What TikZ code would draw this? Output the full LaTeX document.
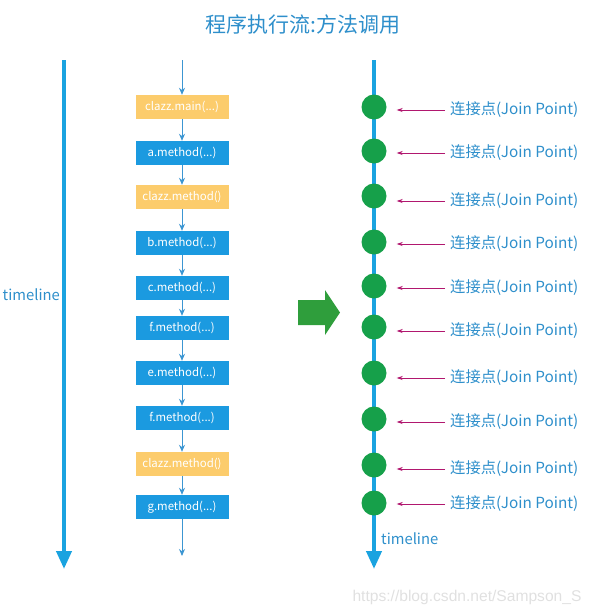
\documentclass[tikz,border=0pt]{standalone}
\usepackage{fontspec}
\setmainfont{Noto Sans CJK SC}
\newfontfamily\wmfont{Liberation Sans}
\usetikzlibrary{arrows.meta,positioning}

\definecolor{boxblue}{RGB}{27,154,224}
\definecolor{boxorange}{RGB}{252,204,108}
\definecolor{lineblue}{RGB}{26,163,224}
\definecolor{flowblue}{RGB}{60,150,210}
\definecolor{textblue}{RGB}{46,143,203}
\definecolor{dotgreen}{RGB}{22,160,74}
\definecolor{arrowgreen}{RGB}{47,158,60}
\definecolor{pinkarrow}{RGB}{177,23,111}

\begin{document}
\begin{tikzpicture}[x=1pt,y=-1pt,>={Stealth[length=7pt,width=6pt]},
  call/.style={rectangle,fill=boxblue,text=white,minimum width=93pt,minimum height=24pt,inner sep=0pt,font=\fontsize{11.4}{13}\selectfont},
  clazz/.style={call,fill=boxorange},
  joinpt/.style={circle,fill=dotgreen,minimum size=25pt,inner sep=0pt},
  jplabel/.style={anchor=west,text=textblue,inner sep=2pt,font=\fontsize{15.3}{17}\selectfont},
  tline/.style={line width=4pt,lineblue,-{Triangle[length=18pt,width=15pt]}},
  flow/.style={flowblue,line width=1pt},
  pin/.style={pinkarrow,line width=0.9pt,-{Stealth[length=6pt,width=4pt]},shorten <=3pt,shorten >=10pt}]

\useasboundingbox (0,0) rectangle (593,614);

% title
\node[text=textblue,font=\fontsize{21}{24}\selectfont] (title) at (303,25) {程序执行流:方法调用};

% left timeline
\coordinate (lt0) at (64,60);
\coordinate (lt1) at (64,569);
\draw[tline] (lt0) -- (lt1);
\node[anchor=east,text=textblue,font=\fontsize{14.8}{17}\selectfont,inner sep=2pt] (ltlabel) at (62,295) {timeline};

% method calls
\coordinate (fstart) at (182,60);
\node[clazz] (m1)  at (182,107) {clazz.main(...)};
\node[call]  (m2)  at (182,153) {a.method(...)};
\node[clazz] (m3)  at (182,197) {clazz.method()};
\node[call]  (m4)  at (182,243) {b.method(...)};
\node[call]  (m5)  at (182,288) {c.method(...)};
\node[call]  (m6)  at (182,328) {f.method(...)};
\node[call]  (m7)  at (182,373) {e.method(...)};
\node[call]  (m8)  at (182,418) {f.method(...)};
\node[clazz] (m9)  at (182,464) {clazz.method()};
\node[call]  (m10) at (182,507) {g.method(...)};
\coordinate (fend) at (182,556);

\path[flow,->] (fstart) edge (m1)
  (m1) edge (m2)
  (m2) edge (m3)
  (m3) edge (m4)
  (m4) edge (m5)
  (m5) edge (m6)
  (m6) edge (m7)
  (m7) edge (m8)
  (m8) edge (m9)
  (m9) edge (m10)
  (m10) edge (fend);

% green arrow
\fill[arrowgreen] (298,300) -- (325,300) -- (325,290) -- (340,312.5) -- (325,335) -- (325,325) -- (298,325) -- cycle;

% right timeline
\coordinate (rt0) at (374,60);
\coordinate (rt1) at (374,569);
\draw[tline] (rt0) -- (rt1);
\node[anchor=west,text=textblue,font=\fontsize{14.8}{17}\selectfont,inner sep=2pt] (rtlabel) at (379,539) {timeline};

% join points
\node[joinpt] (j1)  at (374,107) {};
\node[joinpt] (j2)  at (374,151) {};
\node[joinpt] (j3)  at (374,196) {};
\node[joinpt] (j4)  at (374,242) {};
\node[joinpt] (j5)  at (374,286) {};
\node[joinpt] (j6)  at (374,327) {};
\node[joinpt] (j7)  at (374,373) {};
\node[joinpt] (j8)  at (374,419) {};
\node[joinpt] (j9)  at (374,465) {};
\node[joinpt] (j10) at (374,503) {};

\node[jplabel] (l1)  at (448,110) {连接点(Join Point)};
\node[jplabel] (l2)  at (448,153) {连接点(Join Point)};
\node[jplabel] (l3)  at (448,201) {连接点(Join Point)};
\node[jplabel] (l4)  at (448,244) {连接点(Join Point)};
\node[jplabel] (l5)  at (448,288) {连接点(Join Point)};
\node[jplabel] (l6)  at (448,331) {连接点(Join Point)};
\node[jplabel] (l7)  at (448,378) {连接点(Join Point)};
\node[jplabel] (l8)  at (448,422) {连接点(Join Point)};
\node[jplabel] (l9)  at (448,469) {连接点(Join Point)};
\node[jplabel] (l10) at (448,504) {连接点(Join Point)};

\path[pin] (l1.west) edge (j1.east |- l1.west)
  (l2.west) edge (j2.east |- l2.west)
  (l3.west) edge (j3.east |- l3.west)
  (l4.west) edge (j4.east |- l4.west)
  (l5.west) edge (j5.east |- l5.west)
  (l6.west) edge (j6.east |- l6.west)
  (l7.west) edge (j7.east |- l7.west)
  (l8.west) edge (j8.east |- l8.west)
  (l9.west) edge (j9.east |- l9.west)
  (l10.west) edge (j10.east |- l10.west);

% watermark
\node[text=black!12,font=\wmfont\fontsize{15.6}{18}\selectfont] (wm) at (467,597) {https://blog.csdn.net/Sampson\_S};

\end{tikzpicture}
\end{document}
